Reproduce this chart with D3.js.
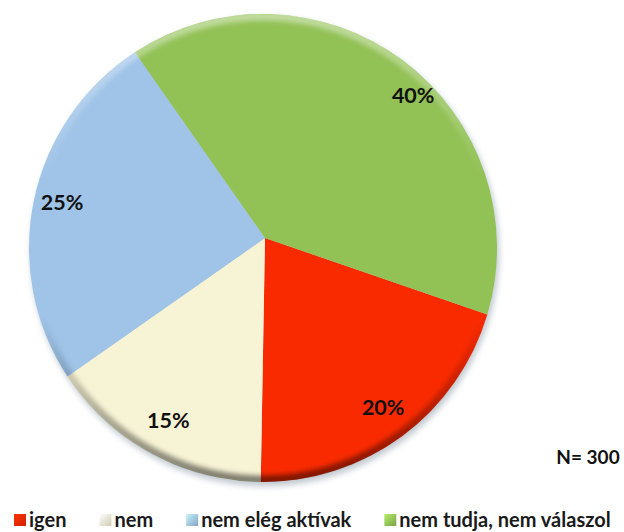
<!DOCTYPE html>
<html>
<head>
<meta charset="utf-8">
<script src="https://cdn.jsdelivr.net/npm/d3@7"></script>
<style>
  html, body { margin: 0; padding: 0; background: #fff; }
  svg { display: block; font-family: Lato, "Open Sans", sans-serif; }
</style>
</head>
<body>
<svg id="chart" width="624" height="532"></svg>
<script>
// Survey answers, share of respondents (%)
const categories = ["igen", "nem", "nem elég aktívak", "nem tudja, nem válaszol"];
const values = [20, 15, 25, 40];
const colors = ["#F92A00", "#F7F3D5", "#9FC4E8", "#92C155"];
const sampleNote = "N= 300";

const svg = d3.select("#chart");

// Disc geometry: the rim circle and the point where the wedges meet
const C = [263, 248], R = 234;
const apex = [265, 238];
const startDeg = 109;

const pie = d3.pie().sort(null).value(d => d)
  .startAngle(startDeg * Math.PI / 180)
  .endAngle(startDeg * Math.PI / 180 + 2 * Math.PI);
const arcs = pie(values);

// Point where a ray from the apex (angle clockwise from 12 o'clock) meets the rim
function rim(theta) {
  const dx = Math.sin(theta), dy = -Math.cos(theta);
  const fx = apex[0] - C[0], fy = apex[1] - C[1];
  const b = fx * dx + fy * dy;
  const c = fx * fx + fy * fy - R * R;
  const t = -b + Math.sqrt(b * b - c);
  return [apex[0] + t * dx, apex[1] + t * dy];
}
function wedge(a) {
  const p0 = rim(a.startAngle), p1 = rim(a.endAngle);
  const g0 = Math.atan2(p0[1] - C[1], p0[0] - C[0]);
  const g1 = Math.atan2(p1[1] - C[1], p1[0] - C[0]);
  let span = g1 - g0; while (span < 0) span += 2 * Math.PI;
  const large = span > Math.PI ? 1 : 0;
  return `M${apex[0]},${apex[1]}L${p0[0]},${p0[1]}A${R},${R} 0 ${large} 1 ${p1[0]},${p1[1]}Z`;
}

const defs = svg.append("defs");

// soft drop shadow under the disc
const sh = defs.append("filter").attr("id", "shadow")
  .attr("x", "-10%").attr("y", "-10%").attr("width", "120%").attr("height", "120%");
sh.append("feGaussianBlur").attr("stdDeviation", 3);

// rim bevel: light along the top, dark along the bottom
const bevel = defs.append("linearGradient").attr("id", "bevel")
  .attr("x1", 0).attr("y1", 0).attr("x2", 0).attr("y2", 1);
bevel.append("stop").attr("offset", "0%").attr("stop-color", "#fff").attr("stop-opacity", 0.45);
bevel.append("stop").attr("offset", "35%").attr("stop-color", "#fff").attr("stop-opacity", 0.0);
bevel.append("stop").attr("offset", "65%").attr("stop-color", "#000").attr("stop-opacity", 0.0);
bevel.append("stop").attr("offset", "100%").attr("stop-color", "#000").attr("stop-opacity", 0.5);
const blur = defs.append("filter").attr("id", "soft");
blur.append("feGaussianBlur").attr("stdDeviation", 2.5);

defs.append("clipPath").attr("id", "disc")
  .append("circle").attr("cx", C[0]).attr("cy", C[1]).attr("r", R);

svg.append("circle")
  .attr("cx", C[0] + 2).attr("cy", C[1] + 4).attr("r", R)
  .attr("fill", "#8a9aa8").attr("opacity", 0.55)
  .attr("filter", "url(#shadow)");

svg.append("g").selectAll("path").data(arcs).join("path")
  .attr("d", wedge)
  .attr("fill", (d, i) => colors[i]);

svg.append("g").attr("clip-path", "url(#disc)")
  .append("circle")
  .attr("cx", C[0]).attr("cy", C[1]).attr("r", R - 2)
  .attr("fill", "none")
  .attr("stroke", "url(#bevel)").attr("stroke-width", 9)
  .attr("filter", "url(#soft)");

// percentage labels inside the wedges
const labelR = 206;
const labelShift = [0, 0, 0, 9 * Math.PI / 180];
svg.append("g").selectAll("text").data(arcs).join("text")
  .attr("x", (d, i) => apex[0] + labelR * Math.sin((d.startAngle + d.endAngle) / 2 + labelShift[i]))
  .attr("y", (d, i) => apex[1] - labelR * Math.cos((d.startAngle + d.endAngle) / 2 + labelShift[i]))
  .attr("text-anchor", "middle").attr("dominant-baseline", "central")
  .attr("font-size", 21.5).attr("font-weight", 700).attr("fill", "#111")
  .text(d => d.data + "%");

svg.append("text")
  .attr("x", 588).attr("y", 456)
  .attr("text-anchor", "middle").attr("dominant-baseline", "central")
  .attr("font-size", 19).attr("font-weight", 700).attr("fill", "#111")
  .text(sampleNote);

// legend with small shaded swatches
colors.forEach((c, i) => {
  const g = defs.append("linearGradient").attr("id", "sw" + i)
    .attr("x1", 0).attr("y1", 0).attr("x2", 1).attr("y2", 1);
  g.append("stop").attr("offset", "0%").attr("stop-color", d3.color(c).brighter(0.6));
  g.append("stop").attr("offset", "100%").attr("stop-color", d3.color(c).darker(0.5));
});
const legend = svg.append("g");
let lx = 14;
categories.forEach((name, i) => {
  legend.append("rect")
    .attr("x", lx).attr("y", 514).attr("width", 12).attr("height", 12)
    .attr("fill", `url(#sw${i})`);
  const t = legend.append("text")
    .attr("x", lx + 15).attr("y", 526.5)
    .attr("font-size", 20).attr("font-weight", 700).attr("fill", "#1a1a1a")
    .text(name);
  lx += 15 + t.node().getComputedTextLength() + 33;
});
</script>
</body>
</html>
